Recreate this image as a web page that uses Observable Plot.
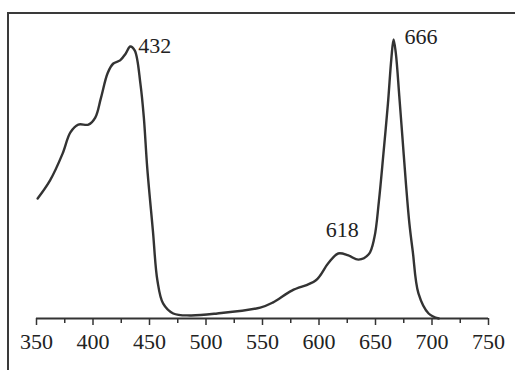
<!DOCTYPE html>
<html>
<head>
<meta charset="utf-8">
<script src="https://cdn.jsdelivr.net/npm/d3@7"></script>
<script src="https://cdn.jsdelivr.net/npm/@observablehq/plot@0.6"></script>
<style>
  html, body { margin: 0; padding: 0; background: #fff; }
  #chart { position: relative; width: 515px; height: 370px; overflow: hidden; }
  #chart::before { content: ""; position: absolute; left: 7px; top: 12px; width: 2px; bottom: 0; background: #3a3a3a; }
  #chart::after { content: ""; position: absolute; left: 7px; top: 12px; right: 0; height: 2px; background: #3a3a3a; }
  #chart svg { position: absolute; left: 0; top: 0; }
  #chart svg text { font-family: "Liberation Serif", "Times New Roman", Times, "DejaVu Serif", serif !important; }
</style>
</head>
<body>
<div id="chart"></div>
<script>
// Wavelength (nm) and relative absorbance
const wavelength = [351, 362, 373, 380, 387, 396, 402, 407, 413, 418, 424, 429, 433, 437, 442, 445, 448, 453, 457, 462, 471, 486, 510, 548, 559, 576, 597, 608, 617, 626, 635, 644, 649, 653, 657, 661, 664, 666, 668, 671, 674, 677, 680, 683, 688, 697, 706];
const absorbance = [0.43, 0.495, 0.59, 0.667, 0.695, 0.695, 0.72, 0.79, 0.88, 0.914, 0.925, 0.95, 0.975, 0.96, 0.84, 0.72, 0.54, 0.315, 0.136, 0.054, 0.018, 0.011, 0.018, 0.039, 0.057, 0.10, 0.136, 0.197, 0.233, 0.226, 0.211, 0.23, 0.29, 0.42, 0.59, 0.77, 0.93, 1.0, 0.95, 0.80, 0.64, 0.48, 0.34, 0.24, 0.09, 0.018, 0.0];

// Peak annotations
const peakNm = [432, 618, 666];
const peakAbs = [0.975, 0.233, 1.0];
const peakLabel = ["432", "618", "666"];

const xTicks = [350, 400, 450, 500, 550, 600, 650, 700, 750];
const xMinorTicks = [375, 425, 475, 525, 575, 625, 675, 725];

const curve = wavelength.map((w, i) => ({w, a: absorbance[i]}));
const peaks = peakNm.map((w, i) => ({w, a: peakAbs[i], label: peakLabel[i]}));

const font = "Liberation Serif, Times New Roman, serif";

const chart = Plot.plot({
  width: 515,
  height: 370,
  marginTop: 13,
  marginLeft: 8,
  marginRight: 0,
  marginBottom: 52,
  style: {background: "transparent", color: "#2a2a2a"},
  x: {domain: [350, 750], range: [36, 488], label: null},
  y: {domain: [0, 1], range: [318, 39], axis: null},
  marks: [
    Plot.ruleY([0], {x1: 350, x2: 750, stroke: "#333", strokeWidth: 2}),
    Plot.axisX(xMinorTicks, {tickSize: 5, tickFormat: () => "", label: null, stroke: "#333", strokeWidth: 1.5}),
    Plot.axisX(xTicks, {tickSize: 7, tickPadding: 8, label: null, tickFormat: d => String(d), fontSize: 22, fontFamily: font, fill: "#222", stroke: "#333", strokeWidth: 1.5}),
    Plot.line(curve, {x: "w", y: "a", curve: "catmull-rom", stroke: "#333", strokeWidth: 2.4}),
    Plot.text(peaks.filter(d => d.label === "432"), {x: "w", y: "a", text: "label", textAnchor: "start", dx: 9, dy: -1, fontSize: 22, fontFamily: font, fill: "#222"}),
    Plot.text(peaks.filter(d => d.label === "666"), {x: "w", y: "a", text: "label", textAnchor: "start", dx: 11, dy: -3, fontSize: 22, fontFamily: font, fill: "#222"}),
    Plot.text(peaks.filter(d => d.label === "618"), {x: "w", y: "a", text: "label", textAnchor: "middle", dx: 3, dy: -24, fontSize: 22, fontFamily: font, fill: "#222"})
  ]
});
document.getElementById("chart").appendChild(chart);
</script>
</body>
</html>
